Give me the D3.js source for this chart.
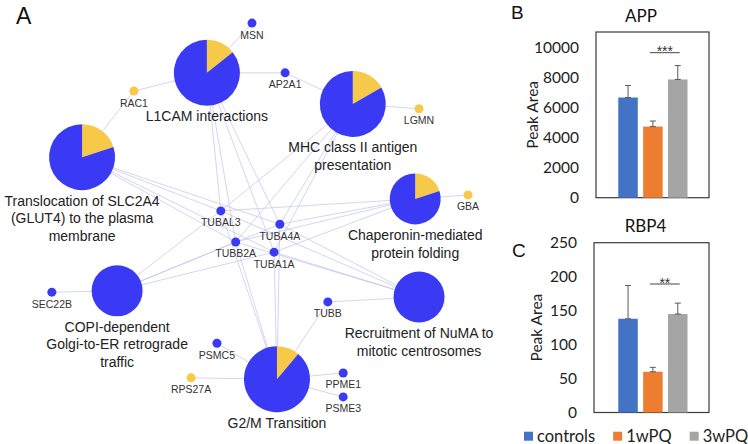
<!DOCTYPE html>
<html>
<head>
<meta charset="utf-8">
<script src="https://cdn.jsdelivr.net/npm/d3@7"></script>
<style>
  body { margin: 0; background: #fff; }
  svg { display: block; }
</style>
</head>
<body>
<script>
// ----------------------------------- DATA --------------------------------------------
// panel A : enriched terms, genes and memberships
var terms = ['L1CAM interactions', 'MHC class II antigen presentation',
             'Translocation of SLC2A4 (GLUT4) to the plasma membrane',
             'Chaperonin-mediated protein folding', 'COPI-dependent Golgi-to-ER retrograde traffic',
             'Recruitment of NuMA to mitotic centrosomes', 'G2/M Transition']
var termLines = [['L1CAM interactions'], ['MHC class II antigen', 'presentation'],
                 ['Translocation of SLC2A4', '(GLUT4) to the plasma', 'membrane'],
                 ['Chaperonin-mediated', 'protein folding'], ['COPI-dependent', 'Golgi-to-ER retrograde', 'traffic'],
                 ['Recruitment of NuMA to', 'mitotic centrosomes'], ['G2/M Transition']]
var termSize = ['large', 'large', 'large', 'small', 'small', 'small', 'large']

var genes = ['MSN', 'AP2A1', 'RAC1', 'LGMN', 'GBA', 'TUBAL3', 'TUBA4A', 'TUBB2A', 'TUBA1A',
             'TUBB', 'SEC22B', 'PSMC5', 'RPS27A', 'PPME1', 'PSME3']
var geneGroup = ['g1', 'g1', 'g2', 'g2', 'g2', 'g1', 'g1', 'g1', 'g1',
                 'g1', 'g1', 'g1', 'g2', 'g1', 'g1']

var tubulins = ['TUBAL3', 'TUBA4A', 'TUBB2A', 'TUBA1A']
var termGenes = [
  ['MSN', 'AP2A1', 'RAC1'].concat(tubulins),
  ['AP2A1', 'LGMN'].concat(tubulins),
  ['RAC1'].concat(tubulins),
  ['GBA'].concat(tubulins),
  ['SEC22B'].concat(tubulins),
  ['TUBB'].concat(tubulins),
  ['TUBB', 'PSMC5', 'RPS27A', 'PPME1', 'PSME3'].concat(tubulins)
]

// layout result (0-100 layout units)
var termX = [43.1, 73.5, 17.1, 86.5, 24.4, 87.3, 57.7]
var termY = [16.4, 23.4, 35.4, 44.8, 65.5, 66.9, 85.4]
var geneX = [52.5, 59.4, 27.9, 87.3, 97.5, 46.0, 58.3, 49.1, 57.1, 68.3, 10.8, 45.2, 39.8, 71.5, 71.5]
var geneY = [5.2, 16.4, 20.5, 24.5, 43.9, 47.5, 50.5, 54.5, 56.8, 68.0, 65.8, 77.3, 85.1, 84.0, 89.4]

// panels B and C
var groups = ['controls', '1wPQ', '3wPQ']
var appMean = [6650, 4720, 7850]
var appErr = [800, 370, 920]
var appTicks = [0, 2000, 4000, 6000, 8000, 10000]
var rbpMean = [138, 60, 145]
var rbpErr = [49, 6.5, 16]
var rbpTicks = [0, 50, 100, 150, 200, 250]

// ----------------------------------- SVG --------------------------------------------
var width = 748
var height = 444

var svg = d3.select('body')
  .append('svg')
  .attr('width', width)
  .attr('height', height)

svg.append('rect')
  .attr('width', '100%')
  .attr('height', '100%')
  .attr('fill', '#fff')

var blue = '#3a3af4'
var yellow = '#f7c948'
var groupColor = d3.scaleOrdinal().domain(['g1', 'g2']).range([blue, yellow])

// ----------------------------------- NETWORK --------------------------------------------
var xNet = d3.scaleLinear().domain([0, 100]).range([0, 480])
var yNet = d3.scaleLinear().domain([0, 100]).range([0, 444])
var rTerm = d3.scaleOrdinal().domain(['large', 'small']).range([33, 25.5])

var geneIndex = {}
genes.forEach(function(g, i) { geneIndex[g] = i })

var links = []
termGenes.forEach(function(list, t) {
  list.forEach(function(g) { links.push({term: t, gene: geneIndex[g]}) })
})

svg.append('g')
  .selectAll('line')
  .data(links)
  .enter()
  .append('line')
  .attr('x1', function(d) { return xNet(termX[d.term]) })
  .attr('y1', function(d) { return yNet(termY[d.term]) })
  .attr('x2', function(d) { return xNet(geneX[d.gene]) })
  .attr('y2', function(d) { return yNet(geneY[d.gene]) })
  .attr('stroke', '#bdbdee')
  .attr('stroke-opacity', 0.65)
  .attr('stroke-width', 1)

// pies
var pie = d3.pie().sort(null).value(function(d) { return d.count })

var termNodes = svg.append('g')
  .selectAll('g')
  .data(terms)
  .enter()
  .append('g')
  .attr('transform', function(d, i) { return 'translate(' + xNet(termX[i]) + ',' + yNet(termY[i]) + ')' })

termNodes.each(function(d, i) {
  var counts = [
    {group: 'g2', count: termGenes[i].filter(function(g) { return geneGroup[geneIndex[g]] === 'g2' }).length},
    {group: 'g1', count: termGenes[i].filter(function(g) { return geneGroup[geneIndex[g]] === 'g1' }).length}
  ]
  var arc = d3.arc().innerRadius(0).outerRadius(rTerm(termSize[i]))
  d3.select(this)
    .selectAll('path')
    .data(pie(counts))
    .enter()
    .append('path')
    .attr('d', arc)
    .attr('fill', function(s) { return groupColor(s.data.group) })

  var label = d3.select(this)
    .append('text')
    .attr('text-anchor', 'middle')
    .attr('font-family', 'Liberation Sans, Arial, sans-serif')
    .attr('font-size', 14)
    .attr('fill', '#222')
  termLines[i].forEach(function(line, k) {
    label.append('tspan')
      .attr('x', 0)
      .attr('y', rTerm(termSize[i]) + 15.5 + k * 17.6)
      .text(line)
  })
})

// genes
var geneNodes = svg.append('g')
  .selectAll('g')
  .data(genes)
  .enter()
  .append('g')
  .attr('transform', function(d, i) { return 'translate(' + xNet(geneX[i]) + ',' + yNet(geneY[i]) + ')' })

geneNodes.append('circle')
  .attr('r', 4.5)
  .attr('fill', function(d, i) { return groupColor(geneGroup[i]) })

geneNodes.append('text')
  .attr('y', 15.5)
  .attr('text-anchor', 'middle')
  .attr('font-family', 'Liberation Sans, Arial, sans-serif')
  .attr('font-size', 10.5)
  .attr('fill', '#333')
  .text(function(d) { return d })

svg.append('text')
  .attr('x', 16)
  .attr('y', 23.5)
  .attr('font-family', 'Liberation Sans, Arial, sans-serif')
  .attr('font-size', 23)
  .attr('fill', '#111')
  .text('A')

// ----------------------------------- BAR PANELS --------------------------------------------
var barColor = d3.scaleOrdinal().domain(groups).range(['#4472c4', '#ed7d31', '#a5a5a5'])
var xBar = d3.scaleBand().domain(groups).range([615.6, 690.2]).paddingInner(0.215).paddingOuter(0.1075)
var calibri = 'Lato, Open Sans, sans-serif'

function drawPanel(p) {
  var g = svg.append('g')
  var y = d3.scaleLinear().domain([0, p.max]).range([p.bottom, p.top])

  g.append('rect')
    .attr('x', p.left)
    .attr('y', p.top)
    .attr('width', 709 - p.left)
    .attr('height', p.bottom - p.top)
    .attr('fill', 'none')
    .attr('stroke', '#3a3a3a')
    .attr('stroke-width', 1.2)

  var axis = g.append('g')
    .attr('transform', 'translate(' + p.left + ',0)')
    .call(d3.axisLeft(y).tickValues(p.ticks).tickFormat(d3.format('d')).tickSize(0).tickPadding(17))
  axis.select('.domain').remove()
  axis.selectAll('text')
    .attr('font-family', calibri)
    .attr('font-size', 15.5)
    .attr('fill', '#222')

  g.selectAll('.bar')
    .data(p.mean)
    .enter()
    .append('rect')
    .attr('x', function(d, i) { return xBar(groups[i]) })
    .attr('y', function(d) { return y(d) })
    .attr('width', xBar.bandwidth())
    .attr('height', function(d) { return p.bottom - y(d) })
    .attr('fill', function(d, i) { return barColor(groups[i]) })

  var err = g.selectAll('.err')
    .data(p.mean)
    .enter()
    .append('g')
    .attr('transform', function(d, i) { return 'translate(' + (xBar(groups[i]) + xBar.bandwidth() / 2) + ',0)' })
    .attr('stroke', '#5a5a5a')
    .attr('stroke-width', 1)
  err.append('line')
    .attr('y1', function(d) { return y(d) })
    .attr('y2', function(d, i) { return y(d + p.err[i]) })
  err.append('line')
    .attr('x1', -3).attr('x2', 3)
    .attr('y1', function(d, i) { return y(d + p.err[i]) })
    .attr('y2', function(d, i) { return y(d + p.err[i]) })
  err.append('line')
    .attr('x1', -3).attr('x2', 3)
    .attr('y1', function(d) { return y(d) })
    .attr('y2', function(d) { return y(d) })

  // significance bracket between 1wPQ and 3wPQ
  var x1 = xBar('1wPQ') + xBar.bandwidth() * 0.35
  var x2 = xBar('3wPQ') + xBar.bandwidth() * 0.6
  g.append('line')
    .attr('x1', x1).attr('x2', x2)
    .attr('y1', p.sigY).attr('y2', p.sigY)
    .attr('stroke', '#444')
    .attr('stroke-width', 1)
  g.append('text')
    .attr('x', (x1 + x2) / 2)
    .attr('y', p.sigY + 3.5)
    .attr('text-anchor', 'middle')
    .attr('font-family', 'Liberation Sans, Arial, sans-serif')
    .attr('font-size', 14)
    .attr('fill', '#333')
    .text(p.stars)

  g.append('text')
    .attr('x', p.titleX)
    .attr('y', p.titleY)
    .attr('text-anchor', 'middle')
    .attr('font-family', calibri)
    .attr('font-size', 17)
    .attr('fill', '#111')
    .text(p.title)

  g.append('text')
    .attr('transform', 'translate(' + p.labelX + ',' + (p.top + p.bottom) / 2 + ') rotate(-90)')
    .attr('text-anchor', 'middle')
    .attr('font-family', calibri)
    .attr('font-size', 15.5)
    .attr('fill', '#222')
    .text('Peak Area')

  g.append('text')
    .attr('x', p.letterX)
    .attr('y', p.letterY)
    .attr('font-family', 'Liberation Sans, Arial, sans-serif')
    .attr('font-size', 19)
    .attr('fill', '#111')
    .text(p.letter)
}

drawPanel({letter: 'B', letterX: 511, letterY: 18.5, title: 'APP', titleX: 641, titleY: 21.5,
           top: 32, bottom: 197.7, left: 596, max: 11000, ticks: appTicks, mean: appMean, err: appErr,
           sigY: 52.7, stars: '***', labelX: 538})
drawPanel({letter: 'C', letterX: 512, letterY: 257, title: 'RBP4', titleX: 645.5, titleY: 232,
           top: 242.7, bottom: 412.5, left: 594, max: 250, ticks: rbpTicks, mean: rbpMean, err: rbpErr,
           sigY: 284, stars: '**', labelX: 542})

// ----------------------------------- LEGEND --------------------------------------------
var legend = svg.append('g')
var lx = 524
groups.forEach(function(name) {
  legend.append('rect')
    .attr('x', lx)
    .attr('y', 431.7)
    .attr('width', 9)
    .attr('height', 9)
    .attr('fill', barColor(name))
  var t = legend.append('text')
    .attr('x', lx + 13)
    .attr('y', 441.5)
    .attr('font-family', calibri)
    .attr('font-size', 16.5)
    .attr('fill', '#222')
    .text(name)
  lx = lx + 13 + t.node().getComputedTextLength() + 18
})
</script>
</body>
</html>
